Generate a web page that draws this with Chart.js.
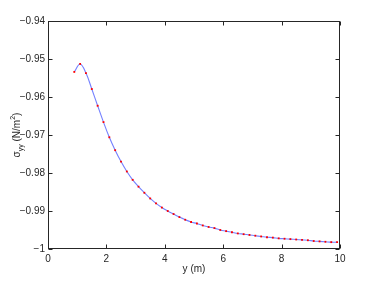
<!DOCTYPE html>
<html lang="en">
<head>
    <meta charset="UTF-8">
    <title>sigma_yy</title>
    <style>
        html, body { margin: 0; padding: 0; background: #fff; }
        .box { width: 374px; height: 281px; }
    </style>
</head>
<body>
    <div class="box">
        <canvas id="mychart"></canvas>
    </div>

    <script src="https://cdnjs.cloudflare.com/ajax/libs/Chart.js/4.4.1/chart.umd.min.js"></script>
    <script>
        // data: y position (m) and stress sigma_yy
        const ys = [0.9, 1.1, 1.3, 1.5, 1.7, 1.9, 2.1, 2.3, 2.5, 2.7,
                    2.9, 3.1, 3.3, 3.5, 3.7, 3.9, 4.1, 4.3, 4.5, 4.7,
                    4.9, 5.1, 5.3, 5.5, 5.7, 5.9, 6.1, 6.3, 6.5, 6.7,
                    6.9, 7.1, 7.3, 7.5, 7.7, 7.9, 8.1, 8.3, 8.5, 8.7,
                    8.9, 9.1, 9.3, 9.5, 9.7, 9.9];
        const sigma = [-0.9534, -0.9513, -0.9537, -0.9579, -0.9623, -0.9666, -0.9706, -0.9740, -0.9770, -0.9796,
                       -0.9818, -0.9836, -0.9852, -0.9867, -0.9880, -0.9891, -0.9900, -0.9908, -0.9916, -0.9923,
                       -0.9929, -0.9933, -0.9938, -0.9942, -0.9945, -0.9950, -0.9953, -0.9956, -0.9959, -0.9961,
                       -0.9963, -0.9965, -0.9967, -0.9969, -0.9970, -0.9972, -0.9973, -0.9974, -0.9975, -0.9976,
                       -0.9977, -0.9979, -0.9980, -0.9981, -0.9982, -0.9982];

        const xTicks = [0, 2, 4, 6, 8, 10];
        const yTicks = [-1, -0.99, -0.98, -0.97, -0.96, -0.95, -0.94];

        const axisColor = '#262626';
        const font = 'Liberation Sans, Arial, sans-serif';

        // matlab style box, inward ticks and axis titles
        const matlabAxes = {
            id: 'matlabAxes',
            afterDraw(chart) {
                const ctx = chart.ctx;
                const a = chart.chartArea;
                const sx = chart.scales.x, sy = chart.scales.y;
                const L = Math.round(a.left) + 0.5, R = Math.round(a.right) - 0.5;
                const T = Math.round(a.top) + 0.5, B = Math.round(a.bottom) - 0.5;
                ctx.save();
                ctx.strokeStyle = axisColor;
                ctx.lineWidth = 1;
                ctx.strokeRect(L, T, R - L, B - T);
                ctx.beginPath();
                xTicks.forEach(v => {
                    const p = Math.round(sx.getPixelForValue(v)) + 0.5;
                    ctx.moveTo(p, B); ctx.lineTo(p, B - 4);
                    ctx.moveTo(p, T); ctx.lineTo(p, T + 4);
                });
                yTicks.forEach(v => {
                    const p = Math.round(sy.getPixelForValue(v)) + 0.5;
                    ctx.moveTo(L, p); ctx.lineTo(L + 4, p);
                    ctx.moveTo(R, p); ctx.lineTo(R - 4, p);
                });
                ctx.stroke();

                // x title
                ctx.fillStyle = axisColor;
                ctx.font = '10px ' + font;
                ctx.textAlign = 'center';
                ctx.textBaseline = 'alphabetic';
                ctx.fillText('y (m)', (a.left + a.right) / 2, 272);

                // y title: sigma_yy (N/m^2), rotated
                const parts = [
                    { t: '\u03c3', size: 10, dy: 0 },
                    { t: 'yy', size: 7, dy: 3 },
                    { t: ' (N/m', size: 10, dy: 0 },
                    { t: '2', size: 7, dy: -4.5 },
                    { t: ')', size: 10, dy: 0 }
                ];
                let total = 0;
                parts.forEach(p => {
                    ctx.font = p.size + 'px ' + font;
                    p.w = ctx.measureText(p.t).width;
                    total += p.w;
                });
                ctx.translate(19.5, (a.top + a.bottom) / 2);
                ctx.rotate(-Math.PI / 2);
                ctx.textAlign = 'left';
                let x = -total / 2;
                parts.forEach(p => {
                    ctx.font = p.size + 'px ' + font;
                    ctx.fillText(p.t, x, p.dy);
                    x += p.w;
                });
                ctx.restore();
            }
        };

        new Chart(document.getElementById('mychart'), {
            type: 'scatter',
            data: {
                datasets: [
                    {
                        data: ys.map((v, i) => ({ x: v, y: sigma[i] })),
                        showLine: true,
                        tension: 0.4,
                        borderColor: 'rgba(40,60,255,0.65)',
                        borderWidth: 1.1,
                        pointStyle: 'rect',
                        pointRadius: 1.3,
                        pointBackgroundColor: '#ff0000',
                        pointBorderColor: '#ff0000',
                        pointBorderWidth: 0
                    }
                ]
            },
            options: {
                responsive: true,
                maintainAspectRatio: false,
                animation: false,
                events: [],
                layout: { padding: { top: 21, right: 34, bottom: 0, left: 0 } },
                plugins: {
                    legend: { display: false },
                    tooltip: { enabled: false }
                },
                scales: {
                    x: {
                        type: 'linear',
                        min: 0,
                        max: 10,
                        afterBuildTicks: s => { s.ticks = xTicks.map(v => ({ value: v })); },
                        afterFit: s => { s.height = 32; },
                        grid: { display: false, drawTicks: false },
                        border: { display: false },
                        ticks: {
                            padding: 4,
                            color: axisColor,
                            font: { family: font, size: 10 },
                            maxRotation: 0
                        }
                    },
                    y: {
                        type: 'linear',
                        min: -1,
                        max: -0.94,
                        afterBuildTicks: s => { s.ticks = yTicks.map(v => ({ value: v })); },
                        afterFit: s => { s.width = 48; },
                        grid: { display: false, drawTicks: false },
                        border: { display: false },
                        ticks: {
                            padding: 3,
                            color: axisColor,
                            font: { family: font, size: 10 },
                            callback: v => String(Number(v.toFixed(2))).replace('-', '\u2212')
                        }
                    }
                }
            },
            plugins: [matlabAxes]
        });
    </script>
</body>
</html>
